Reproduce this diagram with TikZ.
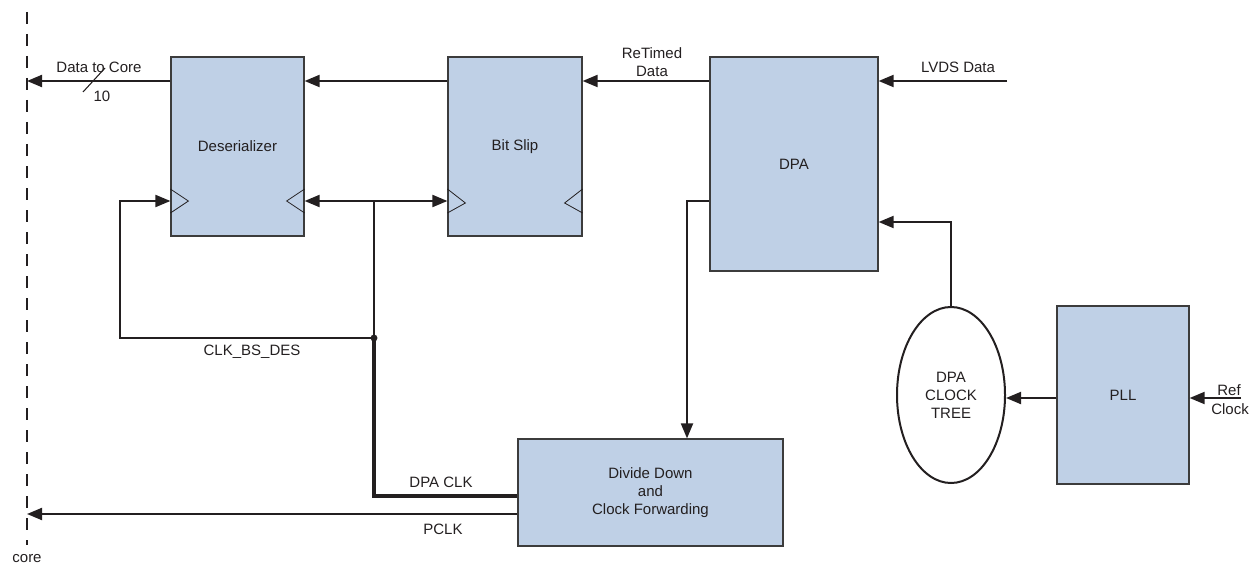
\documentclass[tikz,border=0pt]{standalone}
\usepackage{fontspec}
\setmainfont{Liberation Sans}
\usetikzlibrary{arrows.meta,shapes.geometric,calc}
\definecolor{boxfill}{HTML}{BFD0E6}
\definecolor{boxline}{HTML}{3C3C3C}
\definecolor{ink}{HTML}{231F20}
\begin{document}
\begin{tikzpicture}[x=0.75pt,y=-0.75pt,
  font=\fontsize{11.25}{13.5}\selectfont,
  blk/.style={draw=boxline, line width=0.9pt, fill=boxfill, text=ink, inner sep=0pt, align=center},
  sig/.style={draw=ink, line width=1.5pt, -{Triangle[length=11.25pt,width=9pt]}},
  dsig/.style={draw=ink, line width=1.5pt, {Triangle[length=11.25pt,width=9pt]}-{Triangle[length=11.25pt,width=9pt]}},
  wire/.style={draw=ink, line width=1.5pt},
  thk/.style={draw=ink, line width=2.4pt},
  clk/.style={draw=ink, line width=0.6pt},
  lbl/.style={text=ink, inner sep=0pt, align=center},
  coreline/.style={draw=ink, line width=1.5pt, dash pattern=on 9pt off 7.5pt}
]
\useasboundingbox (0,0) rectangle (1255,581);

% core boundary
\coordinate (ctop) at (27,12);
\coordinate (cbot) at (27,545);
\draw[coreline] (ctop) -- (cbot);
\node[lbl] (corel) at (27,559) {core};

% blocks
\node[blk, minimum width=133*0.75pt, minimum height=179*0.75pt] (des) at (237.5,146.5) {Deserializer};
\node[blk, minimum width=134*0.75pt, minimum height=179*0.75pt] (bs) at (515,146.5) {Bit Slip};
\node[blk, minimum width=168*0.75pt, minimum height=214*0.75pt] (dpa) at (794,164) {DPA};
\node[blk, minimum width=265*0.75pt, minimum height=107*0.75pt] (div) at (650.5,492.5) {Divide Down\\and\\Clock Forwarding};
\node[blk, minimum width=132*0.75pt, minimum height=178*0.75pt] (pll) at (1123,395) {PLL};
\node[ellipse, draw=ink, line width=1.5pt, fill=white, inner sep=0pt, align=center, text=ink,
      minimum width=108*0.75pt, minimum height=176*0.75pt] (tree) at (951,395) {DPA\\CLOCK\\TREE};

% helper coordinates
\coordinate (coreD) at (27,81);
\coordinate (coreP) at (27,514);
\coordinate (lvdsIn) at (1007,81);
\coordinate (refIn) at (1241,398);
\coordinate (j1) at (374,201);
\coordinate (jd) at (374,338);
\coordinate (jb) at (374,496);
\coordinate (lp) at (120,201);
\coordinate (dk) at (687,201);
\coordinate (tin) at (951,222);

% data path
\draw[sig] (des.west |- coreD) -- (coreD);
\draw[sig] (bs.west |- coreD) -- (des.east |- coreD);
\draw[sig] (dpa.west |- coreD) -- (bs.east |- coreD);
\draw[sig] (lvdsIn) -- (dpa.east |- lvdsIn);

% bus slash and width
\coordinate (s1) at (83,92);
\coordinate (s2) at (105,68);
\draw[clk, line width=0.8pt] (s1) -- (s2);
\node[lbl] (bw) at (102,96) {10};

% clock distribution
\draw[dsig] (des.east |- j1) -- (bs.west |- j1);
\draw[wire] (j1) -- (jd);
\draw[sig] (jd) -| (lp) -- (des.west |- lp);
\draw[thk] (jd) -- (jb) -- (div.west |- jb);
\fill[ink] (jd) circle (2.6pt);

% DPA to divide
\draw[sig] (dpa.west |- dk) -- (dk) -- (div.north -| dk);
% PCLK
\draw[sig] (div.west |- coreP) -- (coreP);
% clock tree to DPA
\draw[sig] (tree.north) -- (tin) -- (dpa.east |- tin);
% PLL to clock tree
\draw[sig] (pll.west |- refIn) -- (tree.east |- refIn);
% Ref clock
\draw[sig] (refIn) -- (pll.east |- refIn);

% clock input triangles
\draw[clk] (des.west |- j1) ++(0,-12) -- ++(18,12) -- ++(-18,12);
\draw[clk] (des.east |- j1) ++(0,-12) -- ++(-18,12) -- ++(18,12);
\draw[clk] (bs.west |- j1) ++(0,-12) -- ++(18,14) -- ++(-18,10);
\draw[clk] (bs.east |- j1) ++(0,-12) -- ++(-18,14) -- ++(18,10);

% labels
\node[lbl] (l1) at (99,67) {Data to Core};
\node[lbl] (l2) at (652,62) {ReTimed\\Data};
\node[lbl] (l3) at (958,67) {LVDS Data};
\node[lbl] (l4) at (252,352) {CLK\_BS\_DES};
\node[lbl] (l5) at (441,482) {DPA CLK};
\node[lbl] (l6) at (443,529) {PCLK};
\node[lbl] (l7) at (1229,390) {Ref};
\node[lbl] (l8) at (1230,409) {Clock};
\end{tikzpicture}
\end{document}
